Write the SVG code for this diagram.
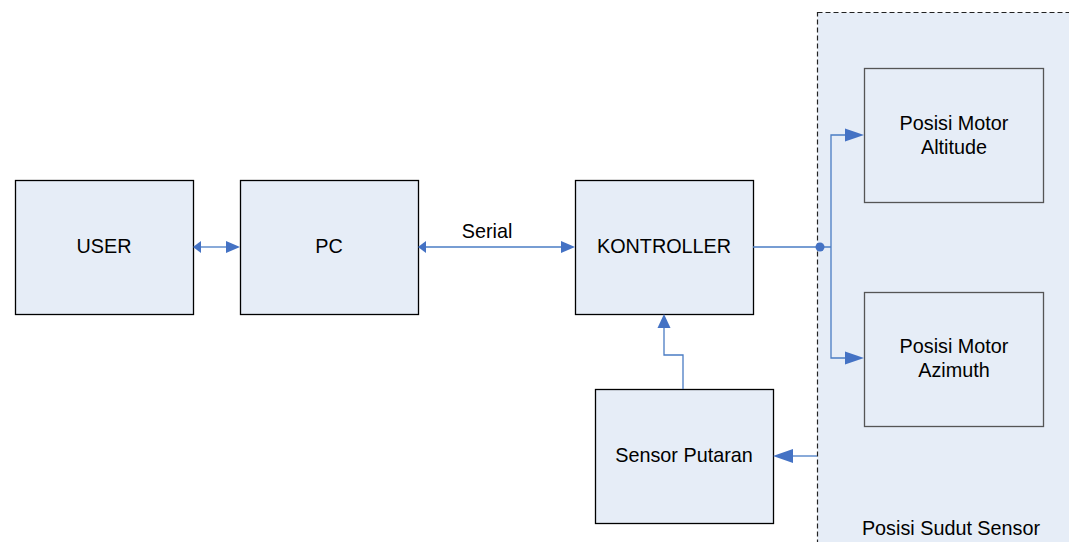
<svg xmlns="http://www.w3.org/2000/svg" width="1069" height="542" viewBox="0 0 1069 542">
<style>
.box{fill:#E6EDF7;stroke:#000;stroke-width:1.3}
.box2{fill:#E6EDF7;stroke:#555;stroke-width:1.3}
.lbl{font-family:"Liberation Sans",Arial,sans-serif;font-size:19.8px;fill:#000;text-anchor:middle}
.ln{fill:none;stroke:#4A7CC4;stroke-width:1.3}
.ah{fill:#4472C4}
</style>
<rect width="1069" height="542" fill="#fff"/>
<g id="container">
<rect x="817.5" y="12.5" width="270" height="560" fill="#E6EDF7" stroke="#222" stroke-width="1.2" stroke-dasharray="5,3"/>
<text class="lbl" x="951" y="535">Posisi Sudut Sensor</text>
</g>
<g id="user"><rect class="box" x="15.5" y="180.5" width="178" height="134"/><text class="lbl" x="104" y="253">USER</text></g>
<g id="pc"><rect class="box" x="240.5" y="180.5" width="178" height="134"/><text class="lbl" x="329" y="253">PC</text></g>
<g id="kontroller"><rect class="box" x="575.5" y="180.5" width="178" height="134"/><text class="lbl" x="664" y="253">KONTROLLER</text></g>
<g id="sensor"><rect class="box" x="595.5" y="389.5" width="178" height="134"/><text class="lbl" x="684" y="462">Sensor Putaran</text></g>
<g id="altitude"><rect class="box2" x="864.5" y="68.5" width="179" height="134"/><text class="lbl" x="954" y="130">Posisi Motor</text><text class="lbl" x="954" y="154">Altitude</text></g>
<g id="azimuth"><rect class="box2" x="864.5" y="292.5" width="179" height="134"/><text class="lbl" x="954" y="353">Posisi Motor</text><text class="lbl" x="954" y="377">Azimuth</text></g>
<g id="connectors">
<line class="ln" x1="199" y1="247" x2="228" y2="247"/>
<polygon class="ah" points="193,247 201,241 201,253"/>
<polygon class="ah" points="240,247 226,241 226,253"/>
<line class="ln" x1="424" y1="247" x2="563" y2="247"/>
<polygon class="ah" points="418,247 426,241 426,253"/>
<polygon class="ah" points="575,247 561,241 561,253"/>
<text class="lbl" x="487" y="238">Serial</text>
<polyline class="ln" points="753,247 831,247"/>
<circle cx="820" cy="247" r="4.5" fill="#4472C4"/>
<polyline class="ln" points="847,135 831,135 831,358 847,358"/>
<polygon class="ah" points="864,135 845,128.5 845,141.5"/>
<polygon class="ah" points="864,358 845,351.5 845,364.5"/>
<polyline class="ln" points="683,389 683,355 664,355 664,328"/>
<polygon class="ah" points="664,314 657.5,328 670.5,328"/>
<line class="ln" x1="817" y1="456" x2="790" y2="456"/>
<polygon class="ah" points="773,456 793,449 793,463"/>
</g>
</svg>
